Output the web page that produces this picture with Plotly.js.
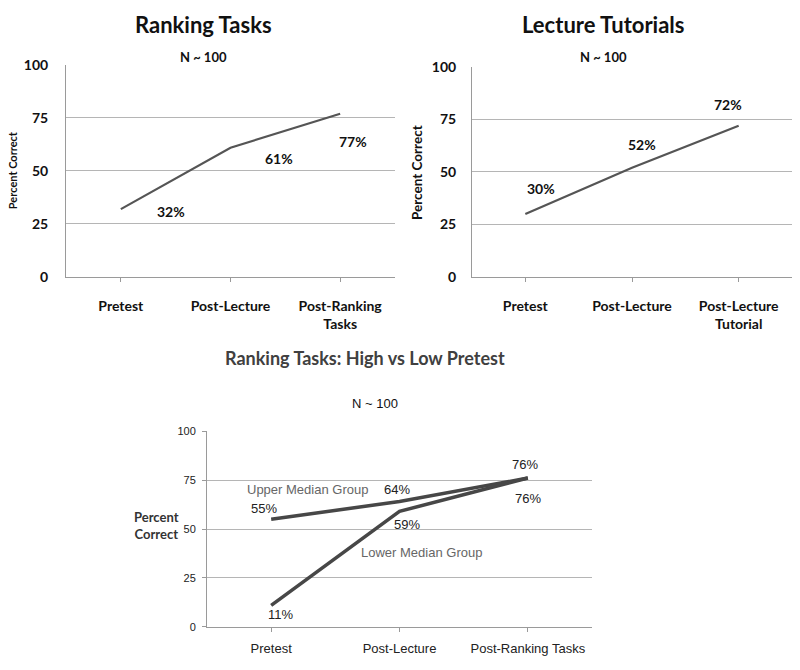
<!DOCTYPE html>
<html>
<head>
<meta charset="utf-8">
<script src="https://cdn.plot.ly/plotly-3.0.1.min.js"></script>
<style>html,body{margin:0;padding:0;background:#fff;}#chart{width:800px;height:670px;}</style>
</head>
<body>
<div id="chart"></div>
<script>
// ---- data ----
const rtCategories = ["Pretest", "Post-Lecture", "Post-Ranking<br>Tasks"];
const rtValues = [32, 61, 77];

const ltCategories = ["Pretest", "Post-Lecture", "Post-Lecture<br>Tutorial"];
const ltValues = [30, 52, 72];

const hlCategories = ["Pretest", "Post-Lecture", "Post-Ranking Tasks"];
const upperValues = [55, 64, 76];
const lowerValues = [11, 59, 76];

const yTicks = [0, 25, 50, 75, 100];

const titleTL = "Ranking Tasks";
const titleTR = "Lecture Tutorials";
const titleB = "Ranking Tasks: High vs Low Pretest";
const nLabel = "N ~ 100";
const yTitle = "Percent Correct";
const upperName = "Upper Median Group";
const lowerName = "Lower Median Group";

// ---- styles ----
const CAL = "Lato, 'Open Sans', sans-serif";
const ARI = "'Liberation Sans', Arial, sans-serif";
const gridC = "#b5b5b5";
const axisC = "#9a9a9a";

const traces = [
  {x: rtCategories, y: rtValues, xaxis: "x", yaxis: "y", mode: "lines",
   line: {color: "#555555", width: 2.2}, hoverinfo: "skip", showlegend: false},
  {x: ltCategories, y: ltValues, xaxis: "x2", yaxis: "y2", mode: "lines",
   line: {color: "#555555", width: 2.2}, hoverinfo: "skip", showlegend: false},
  {x: hlCategories, y: upperValues, xaxis: "x3", yaxis: "y3", mode: "lines", name: upperName,
   line: {color: "#474747", width: 3.5}, hoverinfo: "skip", showlegend: false},
  {x: hlCategories, y: lowerValues, xaxis: "x3", yaxis: "y3", mode: "lines", name: lowerName,
   line: {color: "#474747", width: 3.5}, hoverinfo: "skip", showlegend: false}
];

function xAx(domain, anchor, cats, font, standoff) {
  return {domain: domain, anchor: anchor, type: "category", range: [-0.5, 2.5],
    categoryarray: cats, showgrid: false, zeroline: false, showline: true,
    linecolor: axisC, linewidth: 1, ticks: "outside", ticklen: 4, tickcolor: axisC,
    tickfont: font, ticklabelstandoff: standoff, fixedrange: true};
}
function yAx(domain, anchor, font, ticks, standoff) {
  return {domain: domain, anchor: anchor, range: [0, 100], tickvals: yTicks,
    ticktext: yTicks.map(String), showgrid: true, gridcolor: gridC, gridwidth: 1,
    zeroline: false, showline: true, linecolor: axisC, linewidth: 1,
    ticks: ticks, ticklen: 4, tickcolor: axisC, tickfont: font,
    ticklabelstandoff: standoff, fixedrange: true};
}

const boldTick = {family: CAL, size: 14, color: "#111", weight: 700};
const boldTickX = {family: CAL, size: 14, color: "#111", weight: 700};
const ariTick = {family: ARI, size: 11, color: "#222"};
const ariTickX = {family: ARI, size: 13, color: "#222"};

const ann = [];
function A(o) { ann.push(Object.assign({showarrow: false, xanchor: "center", yanchor: "middle"}, o)); }

// titles
A({xref: "paper", yref: "paper", x: 0.254, y: 0.9627, text: "<b>" + titleTL + "</b>",
   font: {family: CAL, size: 22, color: "#111"}});
A({xref: "paper", yref: "paper", x: 0.754, y: 0.9627, text: "<b>" + titleTR + "</b>",
   font: {family: CAL, size: 22, color: "#111"}});
A({xref: "paper", yref: "paper", x: 0.456, y: 0.4657, text: "<b>" + titleB + "</b>",
   font: {family: CAL, size: 18, color: "#404040"}});
// N labels
A({xref: "paper", yref: "paper", x: 0.254, y: 0.915, text: "<b>" + nLabel + "</b>",
   font: {family: CAL, size: 13, color: "#111"}});
A({xref: "paper", yref: "paper", x: 0.754, y: 0.915, text: "<b>" + nLabel + "</b>",
   font: {family: CAL, size: 13, color: "#111"}});
A({xref: "paper", yref: "paper", x: 0.469, y: 0.3985, text: nLabel,
   font: {family: ARI, size: 13, color: "#111"}});
// y titles
A({xref: "paper", yref: "paper", x: 0.015, y: 0.746, text: "<b>" + yTitle + "</b>", textangle: -90,
   font: {family: CAL, size: 11, color: "#111"}});
A({xref: "paper", yref: "paper", x: 0.521, y: 0.743, text: "<b>" + yTitle + "</b>", textangle: -90,
   font: {family: CAL, size: 13.5, color: "#111"}});
A({xref: "paper", yref: "paper", x: 0.195, y: 0.2164, text: "<b>Percent<br>Correct</b>",
   font: {family: CAL, size: 13, color: "#333"}});

// data labels
const pct = v => v + "%";
const lblTL = {family: CAL, size: 14, color: "#111", weight: 700};
const rtShift = [[50, -2], [48, -11], [13, -28]];
rtValues.forEach((v, i) => A({xref: "x", yref: "y", x: rtCategories[i], y: v, text: "<b>" + pct(v) + "</b>",
  xshift: rtShift[i][0], yshift: rtShift[i][1], font: lblTL}));
const ltShift = [[16, 25], [10, 23], [-11, 21]];
ltValues.forEach((v, i) => A({xref: "x2", yref: "y2", x: ltCategories[i], y: v, text: "<b>" + pct(v) + "</b>",
  xshift: ltShift[i][0], yshift: ltShift[i][1], font: lblTL}));
const lblB = {family: ARI, size: 13, color: "#222"};
const upShift = [[-7, 11], [-3, 12], [-3, 14]];
upperValues.forEach((v, i) => A({xref: "x3", yref: "y3", x: hlCategories[i], y: v, text: pct(v),
  xshift: upShift[i][0], yshift: upShift[i][1], font: lblB}));
const loShift = [[9, -9], [7, -13], [0, -20]];
lowerValues.forEach((v, i) => A({xref: "x3", yref: "y3", x: hlCategories[i], y: v, text: pct(v),
  xshift: loShift[i][0], yshift: loShift[i][1], font: lblB}));
A({xref: "x3", yref: "y3", x: hlCategories[0], y: upperValues[0], text: upperName,
   xshift: 36, yshift: 30, font: {family: ARI, size: 13, color: "#666"}});
A({xref: "x3", yref: "y3", x: hlCategories[1], y: lowerValues[1], text: lowerName,
   xshift: 22, yshift: -41, font: {family: ARI, size: 13, color: "#666"}});

const layout = {
  width: 800, height: 670,
  margin: {l: 0, r: 0, t: 0, b: 0},
  paper_bgcolor: "#fff", plot_bgcolor: "#fff",
  showlegend: false,
  xaxis: xAx([0.0825, 0.49375], "y", rtCategories, boldTickX, 12),
  yaxis: yAx([0.5866, 0.903], "x", boldTick, "", 14),
  xaxis2: xAx([0.59, 0.99], "y2", ltCategories, boldTickX, 12),
  yaxis2: yAx([0.5866, 0.90], "x2", boldTick, "", 12),
  xaxis3: xAx([0.25875, 0.74], "y3", hlCategories, ariTickX, 5),
  yaxis3: yAx([0.0642, 0.3567], "x3", ariTick, "outside", 4),
  annotations: ann
};

Plotly.newPlot("chart", traces, layout, {staticPlot: true, displayModeBar: false});
</script>
</body>
</html>
